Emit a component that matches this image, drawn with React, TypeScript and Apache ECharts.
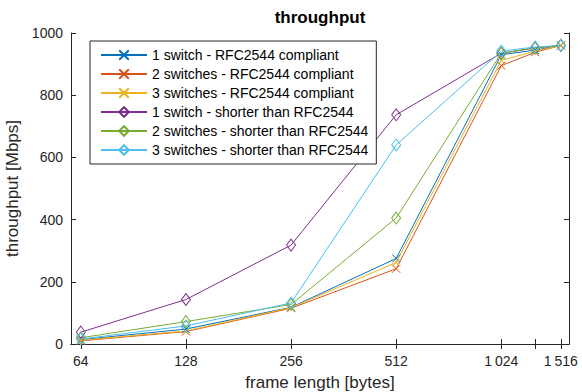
import React, { useEffect, useRef } from "react";
import * as echarts from "echarts";

const frameLengths = [64, 128, 256, 512, 1024, 1280, 1516];
const xTickValues = [64, 128, 256, 512, 1024, 1280, 1516];
const xLabelValues = [64, 128, 256, 512, 1024, 1516];
const yTicks = [0, 200, 400, 600, 800, 1000];

const seriesNames = [
  "1 switch - RFC2544 compliant",
  "2 switches - RFC2544 compliant",
  "3 switches - RFC2544 compliant",
  "1 switch - shorter than RFC2544",
  "2 switches - shorter than RFC2544",
  "3 switches - shorter than RFC2544",
];
const oneSwitchCompliant = [14, 48, 118, 275, 930, 945, 960];
const twoSwitchCompliant = [10, 40, 115, 242, 895, 938, 960];
const threeSwitchCompliant = [12, 42, 117, 262, 912, 942, 960];
const oneSwitchShorter = [38, 143, 318, 737, 935, 952, 960];
const twoSwitchShorter = [20, 72, 127, 405, 935, 952, 960];
const threeSwitchShorter = [16, 58, 132, 640, 942, 955, 960];

const seriesValues = [
  oneSwitchCompliant,
  twoSwitchCompliant,
  threeSwitchCompliant,
  oneSwitchShorter,
  twoSwitchShorter,
  threeSwitchShorter,
];
const colors = ["#0072BD", "#D95319", "#EDB120", "#7E2F8E", "#77AC30", "#4DBEEE"];
const markers = ["x", "x", "x", "d", "d", "d"];

const FONT = "Liberation Sans, Arial, sans-serif";
const AXIS_COLOR = "#262626";
const X_SYMBOL = "path://M0 0L10 10M10 0L0 10";

function fmtX(v: number) {
  const r = Math.round(v);
  if (r >= 1000) {
    const s = String(r);
    return s.slice(0, s.length - 3) + "\u2009" + s.slice(s.length - 3);
  }
  return String(r);
}

export default function App() {
  const ref = useRef<HTMLDivElement>(null);
  useEffect(() => {
    if (!ref.current) return;
    const chart = echarts.init(ref.current, null, { renderer: "svg" });
    const xBase = {
      type: "log" as const,
      logBase: 2,
      min: 60,
      max: 1600,
      axisLine: { show: true, lineStyle: { color: AXIS_COLOR, width: 1 } },
      splitLine: { show: false },
      minorTick: { show: false },
    };
    const yBase = {
      type: "value" as const,
      min: 0,
      max: 1000,
      interval: 200,
      axisLine: { show: true, lineStyle: { color: AXIS_COLOR, width: 1 } },
      splitLine: { show: false },
    };
    chart.setOption({
      animation: false,
      backgroundColor: "#fff",
      title: {
        text: "throughput",
        left: 320,
        textAlign: "center",
        top: 9,
        padding: 0,
        textStyle: { fontFamily: FONT, fontSize: 17, fontWeight: "bold", color: "#000" },
      },
      grid: { left: 71, right: 13, top: 33, bottom: 48, containLabel: false, outerBoundsMode: "none" },
      legend: {
        orient: "vertical",
        left: 90,
        top: 41,
        padding: [7, 8, 7, 10],
        itemWidth: 46,
        itemHeight: 12,
        itemGap: 5,
        backgroundColor: "#fff",
        borderColor: AXIS_COLOR,
        borderWidth: 1,
        borderRadius: 0,
        textStyle: { fontFamily: FONT, fontSize: 14, color: "#000", lineHeight: 14 },
        data: seriesNames,
      },
      xAxis: [
        {
          ...xBase,
          position: "bottom",
          name: "frame length [bytes]",
          nameLocation: "middle",
          nameGap: 30,
          nameTextStyle: { fontFamily: FONT, fontSize: 17, color: AXIS_COLOR },
          axisTick: { show: true, inside: true, length: 5, customValues: xTickValues, lineStyle: { color: AXIS_COLOR } },
          axisLabel: {
            show: true,
            customValues: xLabelValues,
            formatter: (v: number) => fmtX(v),
            fontFamily: FONT,
            fontSize: 14,
            color: AXIS_COLOR,
            margin: 10,
          },
        },
        {
          ...xBase,
          position: "top",
          axisTick: { show: true, inside: true, length: 5, customValues: xTickValues, lineStyle: { color: AXIS_COLOR } },
          axisLabel: { show: false },
        },
      ],
      yAxis: [
        {
          ...yBase,
          position: "left",
          name: "throughput [Mbps]",
          nameLocation: "middle",
          nameGap: 40,
          nameTextStyle: { fontFamily: FONT, fontSize: 17, color: AXIS_COLOR },
          axisTick: { show: true, inside: true, length: 5, lineStyle: { color: AXIS_COLOR } },
          axisLabel: {
            show: true,
            fontFamily: FONT,
            fontSize: 14,
            color: AXIS_COLOR,
            margin: 8,
            customValues: yTicks,
            formatter: (v: number) => String(Math.round(v)),
          },
        },
        {
          ...yBase,
          position: "right",
          axisTick: { show: true, inside: true, length: 5, lineStyle: { color: AXIS_COLOR } },
          axisLabel: { show: false },
        },
      ],
      series: seriesNames.map((name, i) => ({
        name,
        type: "line",
        xAxisIndex: 0,
        yAxisIndex: 0,
        data: frameLengths.map((x, j) => [x, seriesValues[i][j]]),
        symbol: markers[i] === "x" ? X_SYMBOL : "diamond",
        symbolSize: markers[i] === "x" ? 8 : [9, 12],
        showAllSymbol: true,
        lineStyle: { color: colors[i], width: 1 },
        itemStyle: { color: "rgba(255,255,255,0)", borderColor: colors[i], borderWidth: 1 },
        emphasis: { disabled: true },
        z: 2,
      })),
    });
    return () => chart.dispose();
  }, []);
  return <div ref={ref} style={{ width: 582, height: 392, position: "absolute", left: 0, top: 0 }} />;
}
